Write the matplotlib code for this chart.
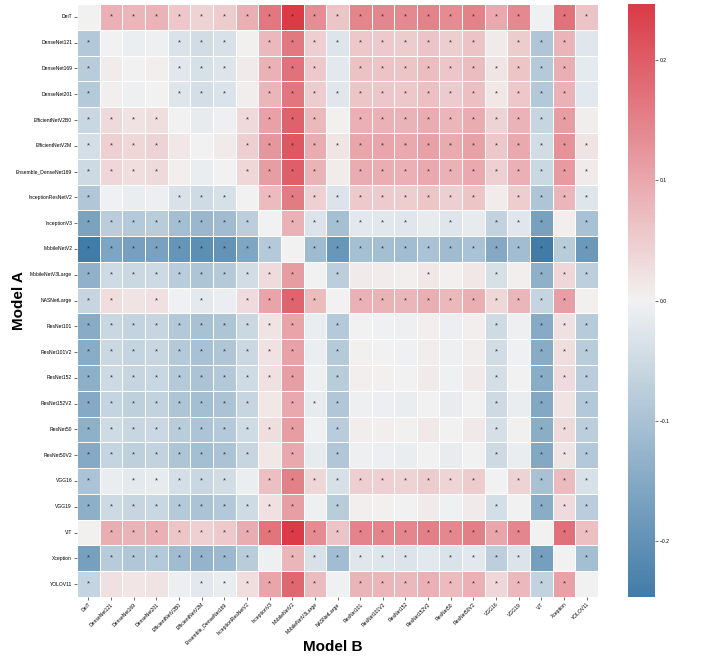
import numpy as np
import matplotlib
matplotlib.use("Agg")
import matplotlib.pyplot as plt
import seaborn as sns

models = ["DeiT", "DenseNet121", "DenseNet169", "DenseNet201", "EfficientNetV2B0",
          "EfficientNetV2M", "Ensemble_DenseNet169", "InceptionResNetV2", "InceptionV3",
          "MobileNetV2", "MobileNetV3Large", "NASNetLarge", "ResNet101", "ResNet101V2",
          "ResNet152", "ResNet152V2", "ResNet50", "ResNet50V2", "VGG16", "VGG19", "ViT",
          "Xception", "YOLOV11"]

# mean difference (Model A - Model B)
diff = np.array([
    [0.000, 0.088, 0.080, 0.084, 0.057, 0.042, 0.052, 0.090, 0.165, 0.250, 0.135, 0.060, 0.145, 0.143, 0.140, 0.150, 0.138, 0.150, 0.098, 0.140, -0.003, 0.170, 0.063],
    [-0.088, 0.000, -0.008, -0.004, -0.031, -0.046, -0.036, 0.002, 0.077, 0.162, 0.047, -0.028, 0.057, 0.055, 0.052, 0.062, 0.050, 0.062, 0.010, 0.052, -0.091, 0.082, -0.025],
    [-0.080, 0.008, 0.000, 0.004, -0.023, -0.038, -0.028, 0.010, 0.085, 0.170, 0.055, -0.020, 0.065, 0.063, 0.060, 0.070, 0.058, 0.070, 0.018, 0.060, -0.083, 0.090, -0.017],
    [-0.084, 0.004, -0.004, 0.000, -0.027, -0.042, -0.032, 0.006, 0.081, 0.166, 0.051, -0.024, 0.061, 0.059, 0.056, 0.066, 0.054, 0.066, 0.014, 0.056, -0.087, 0.086, -0.021],
    [-0.057, 0.031, 0.023, 0.027, 0.000, -0.015, -0.005, 0.033, 0.108, 0.193, 0.078, 0.003, 0.088, 0.086, 0.083, 0.093, 0.081, 0.093, 0.041, 0.083, -0.060, 0.113, 0.006],
    [-0.042, 0.046, 0.038, 0.042, 0.015, 0.000, 0.010, 0.048, 0.123, 0.208, 0.093, 0.018, 0.103, 0.101, 0.098, 0.108, 0.096, 0.108, 0.056, 0.098, -0.045, 0.128, 0.021],
    [-0.052, 0.036, 0.028, 0.032, 0.005, -0.010, 0.000, 0.038, 0.113, 0.198, 0.083, 0.008, 0.093, 0.091, 0.088, 0.098, 0.086, 0.098, 0.046, 0.088, -0.055, 0.118, 0.011],
    [-0.090, -0.002, -0.010, -0.006, -0.033, -0.048, -0.038, 0.000, 0.075, 0.160, 0.045, -0.030, 0.055, 0.053, 0.050, 0.060, 0.048, 0.060, 0.008, 0.050, -0.093, 0.080, -0.027],
    [-0.165, -0.077, -0.085, -0.081, -0.108, -0.123, -0.113, -0.075, 0.000, 0.085, -0.030, -0.105, -0.020, -0.022, -0.025, -0.015, -0.027, -0.015, -0.067, -0.025, -0.168, 0.005, -0.102],
    [-0.250, -0.162, -0.170, -0.166, -0.193, -0.208, -0.198, -0.160, -0.085, 0.000, -0.115, -0.190, -0.105, -0.107, -0.110, -0.100, -0.112, -0.100, -0.152, -0.110, -0.253, -0.080, -0.187],
    [-0.135, -0.047, -0.055, -0.051, -0.078, -0.093, -0.083, -0.045, 0.030, 0.115, 0.000, -0.075, 0.010, 0.008, 0.005, 0.015, 0.003, 0.015, -0.037, 0.005, -0.138, 0.035, -0.072],
    [-0.060, 0.028, 0.020, 0.024, -0.003, -0.018, -0.008, 0.030, 0.105, 0.190, 0.075, 0.000, 0.085, 0.083, 0.080, 0.090, 0.078, 0.090, 0.038, 0.080, -0.063, 0.110, 0.003],
    [-0.145, -0.057, -0.065, -0.061, -0.088, -0.103, -0.093, -0.055, 0.020, 0.105, -0.010, -0.085, 0.000, -0.002, -0.005, 0.005, -0.007, 0.005, -0.047, -0.005, -0.148, 0.025, -0.082],
    [-0.143, -0.055, -0.063, -0.059, -0.086, -0.101, -0.091, -0.053, 0.022, 0.107, -0.008, -0.083, 0.002, 0.000, -0.003, 0.007, -0.005, 0.007, -0.045, -0.003, -0.146, 0.027, -0.080],
    [-0.140, -0.052, -0.060, -0.056, -0.083, -0.098, -0.088, -0.050, 0.025, 0.110, -0.005, -0.080, 0.005, 0.003, 0.000, 0.010, -0.002, 0.010, -0.042, 0.000, -0.143, 0.030, -0.077],
    [-0.150, -0.062, -0.070, -0.066, -0.093, -0.108, -0.098, -0.060, 0.015, 0.100, -0.015, -0.090, -0.005, -0.007, -0.010, 0.000, -0.012, 0.000, -0.052, -0.010, -0.153, 0.020, -0.087],
    [-0.138, -0.050, -0.058, -0.054, -0.081, -0.096, -0.086, -0.048, 0.027, 0.112, -0.003, -0.078, 0.007, 0.005, 0.002, 0.012, 0.000, 0.012, -0.040, 0.002, -0.141, 0.032, -0.075],
    [-0.150, -0.062, -0.070, -0.066, -0.093, -0.108, -0.098, -0.060, 0.015, 0.100, -0.015, -0.090, -0.005, -0.007, -0.010, 0.000, -0.012, 0.000, -0.052, -0.010, -0.153, 0.020, -0.087],
    [-0.098, -0.010, -0.018, -0.014, -0.041, -0.056, -0.046, -0.008, 0.067, 0.152, 0.037, -0.038, 0.047, 0.045, 0.042, 0.052, 0.040, 0.052, 0.000, 0.042, -0.101, 0.072, -0.035],
    [-0.140, -0.052, -0.060, -0.056, -0.083, -0.098, -0.088, -0.050, 0.025, 0.110, -0.005, -0.080, 0.005, 0.003, 0.000, 0.010, -0.002, 0.010, -0.042, 0.000, -0.143, 0.030, -0.077],
    [0.003, 0.091, 0.083, 0.087, 0.060, 0.045, 0.055, 0.093, 0.168, 0.253, 0.138, 0.063, 0.148, 0.146, 0.143, 0.153, 0.141, 0.153, 0.101, 0.143, 0.000, 0.173, 0.066],
    [-0.170, -0.082, -0.090, -0.086, -0.113, -0.128, -0.118, -0.080, -0.005, 0.080, -0.035, -0.110, -0.025, -0.027, -0.030, -0.020, -0.032, -0.020, -0.072, -0.030, -0.173, 0.000, -0.107],
    [-0.063, 0.025, 0.017, 0.021, -0.006, -0.021, -0.011, 0.027, 0.102, 0.187, 0.072, -0.003, 0.082, 0.080, 0.077, 0.087, 0.075, 0.087, 0.035, 0.077, -0.066, 0.107, 0.000],
])

# '*' = significant pair
signif = [
    ".*******************.**",
    "*...***.**********.***.",
    "*...***.***.**********.",
    "*...***.**************.",
    "****...****.**********.",
    "****...****************",
    "****...****.***********",
    "*...***.**********.****",
    "********.******.*.***.*",
    "*********.*************",
    "**********.*...*..*.***",
    "**.*.*.****.**********.",
    "**********.*......*.***",
    "**********.*......*.***",
    "**********.*......*.***",
    "********.***......*.*.*",
    "**********.*......*.***",
    "********.*.*......*.***",
    "*.*****.**********.****",
    "**********.*......*.***",
    ".*******************.**",
    "********.******.*****.*",
    "*....******.**********.",
]
stars = np.array([[("*" if c == "*" else "") for c in row] for row in signif])

plt.rcParams['font.family'] = ['Liberation Sans', 'DejaVu Sans']

fig = plt.figure(figsize=(7.08, 6.61), dpi=100)
ax = fig.add_axes([0.1088, 0.0968, 0.7359, 0.8971])
cax = fig.add_axes([0.887, 0.0968, 0.0381, 0.8971])

cmap = sns.diverging_palette(240, 10, as_cmap=True)
sns.heatmap(diff, ax=ax, cbar_ax=cax, cmap=cmap, center=0, vmin=-0.247, vmax=0.247,
            annot=stars, fmt="", annot_kws={"fontsize": 5.5, "color": "#333333"},
            linewidths=0.5, linecolor="white",
            xticklabels=models, yticklabels=models)

ax.tick_params(axis="both", labelsize=3.6, length=2, width=0.4, pad=1.5)
ax.set_xticklabels(models, rotation=45, ha="right", rotation_mode="anchor")
ax.set_yticklabels(models, rotation=0)

ax.set_xlabel("Model B", fontsize=11, fontweight="bold")
ax.set_ylabel("Model A", fontsize=11, fontweight="bold")
ax.xaxis.set_label_coords(0.49, -0.072)
ax.yaxis.set_label_coords(-0.097, 0.5)

cax.tick_params(labelsize=3.6, length=2, width=0.4, pad=1.5)

fig.savefig("out.png", dpi=100)
